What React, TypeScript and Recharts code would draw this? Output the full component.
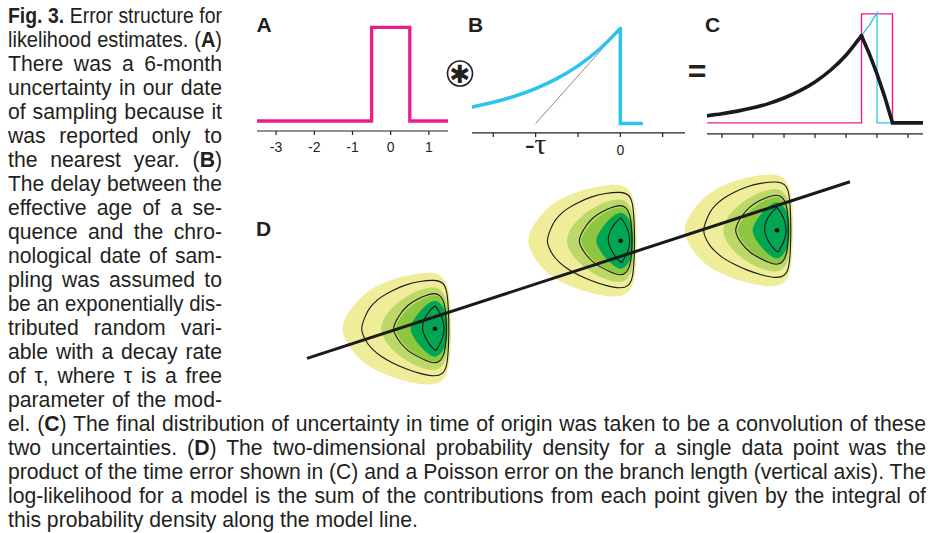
import React, { useMemo } from 'react';
import { LineChart, Line, XAxis, YAxis, ScatterChart, Scatter } from 'recharts';

// ---------- Panel A: sampling-date uncertainty (box) ----------
const A_TICKS = [-3, -2, -1, 0, 1];
const A_BOX = [
  { x: -3.5, y: 0 }, { x: -0.5, y: 0 }, { x: -0.5, y: 1 },
  { x: 0.5, y: 1 }, { x: 0.5, y: 0 }, { x: 1.5, y: 0 },
];

// ---------- Panel B: exponential delay ----------
const B_TICKS = [-1.5, -1, -0.5, 0, 0.5];
const B_TICK_LABELS = ['', '-τ', '', '0', ''];
const B_DECAY = [
  { x: -1.75, y: 0.174 }, { x: -1.5, y: 0.223 }, { x: -1.25, y: 0.287 },
  { x: -1.0, y: 0.368 }, { x: -0.75, y: 0.472 }, { x: -0.5, y: 0.607 },
  { x: -0.25, y: 0.779 }, { x: 0, y: 1.0 },
];
const B_DROP = [{ x: 0, y: 1.0 }, { x: 0, y: 0 }, { x: 0.25, y: 0 }];
const B_TANGENT = [{ x: -1, y: 0 }, { x: 0, y: 1.0 }];

// ---------- Panel C: convolution ----------
const C_TICKS = [-5, -4, -3, -2, -1, 0, 1];
const C_BOX = [
  { x: -5.48, y: 0 }, { x: -0.5, y: 0 }, { x: -0.5, y: 1 },
  { x: 0.5, y: 1 }, { x: 0.5, y: 0 },
];
const C_DECAY = [
  { x: -0.5, y: 0.8 }, { x: -0.25, y: 0.895 }, { x: 0, y: 1.01 },
  { x: 0, y: 0 }, { x: 0.5, y: 0 },
];
const C_CONV_RISE = [
  { x: -5.48, y: 0.066 }, { x: -5, y: 0.084 }, { x: -4.5, y: 0.108 },
  { x: -4, y: 0.138 }, { x: -3.5, y: 0.177 }, { x: -3, y: 0.228 },
  { x: -2.5, y: 0.293 }, { x: -2, y: 0.376 }, { x: -1.5, y: 0.483 },
  { x: -1, y: 0.621 }, { x: -0.5, y: 0.8 },
];
const C_CONV_FALL = [
  { x: -0.5, y: 0.8 }, { x: -0.25, y: 0.636 }, { x: 0, y: 0.45 },
  { x: 0.25, y: 0.239 }, { x: 0.5, y: 0 }, { x: 1.48, y: 0 },
];

// ---------- Panel D: 2-D probability density blobs ----------
const D_CENTERS = [
  { x: 13.5, y: 7.13 },
  { x: 32.07, y: 15.93 },
  { x: 47.7, y: 16.97 },
];
const D_MODEL_LINE = [{ x: 0.7, y: 4.16 }, { x: 55.0, y: 21.83 }];

const D_YELLOW = [[0, 5.65], [0.9, 5.1], [1.3, 4.2], [1.5, 2.9], [1.6, 1.2], [1.62, 0], [1.6, -1.2], [1.5, -2.9], [1.3, -4.2], [0.9, -5.1], [0, -5.65], [-1.5, -5.55], [-3.0, -5.27], [-5.4, -4.45], [-6.7, -3.7], [-7.7, -2.93], [-8.6, -1.75], [-9.1, -0.85], [-9.3, 0], [-9.1, 0.85], [-8.6, 1.75], [-7.7, 2.9], [-6.7, 3.75], [-5.4, 4.57], [-3.0, 5.3], [-1.5, 5.55]];
const D_GREEN1 = [[0, 4.2], [0.7, 3.85], [1.2, 2.9], [1.4, 1.4], [1.45, 0], [1.4, -1.4], [1.2, -2.9], [0.7, -3.85], [0, -4.2], [-1.2, -4.0], [-2.4, -3.5], [-3.5, -2.8], [-4.4, -2.0], [-5.1, -1.1], [-5.5, 0], [-5.1, 1.1], [-4.4, 2.0], [-3.5, 2.8], [-2.4, 3.5], [-1.2, 4.0]];
const D_GREEN2 = [[0, 3.4], [0.6, 3.1], [1.1, 2.3], [1.3, 1.1], [1.35, 0], [1.3, -1.1], [1.1, -2.3], [0.6, -3.1], [0, -3.4], [-0.9, -3.15], [-1.8, -2.7], [-2.7, -2.0], [-3.4, -1.2], [-3.8, -0.5], [-4.0, 0], [-3.8, 0.5], [-3.4, 1.2], [-2.7, 2.0], [-1.8, 2.7], [-0.9, 3.15]];
const D_GREEN3 = [[0, 2.9], [0.5, 2.6], [1.0, 1.9], [1.2, 0.9], [1.25, 0], [1.2, -0.9], [1.0, -1.9], [0.5, -2.6], [0, -2.9], [-0.6, -2.6], [-1.2, -2.1], [-1.8, -1.4], [-2.3, -0.6], [-2.5, 0], [-2.3, 0.6], [-1.8, 1.4], [-1.2, 2.1], [-0.6, 2.6]];
const D_CONTOUR1 = [[0, 4.9], [0.8, 4.65], [1.2, 3.9], [1.35, 2.0], [1.4, 0], [1.35, -2.0], [1.2, -3.8], [0.8, -4.55], [0, -4.8], [-1.5, -4.5], [-3.0, -4.0], [-4.3, -3.4], [-5.4, -2.8], [-6.2, -2.1], [-6.7, -1.6], [-7.2, -0.7], [-7.4, 0], [-7.2, 0.7], [-6.7, 1.9], [-6.2, 2.5], [-5.4, 3.2], [-4.3, 3.8], [-3.0, 4.4], [-1.5, 4.75]];
const D_CONTOUR2 = [[0, 3.6], [0.6, 3.3], [0.95, 2.6], [1.1, 1.3], [1.15, 0], [1.1, -1.3], [0.95, -2.5], [0.6, -3.2], [0, -3.5], [-0.9, -3.2], [-1.8, -2.75], [-2.7, -2.25], [-3.5, -1.4], [-4.0, -0.6], [-4.2, 0], [-4.0, 0.6], [-3.5, 1.5], [-2.7, 2.4], [-1.8, 2.95], [-0.9, 3.35]];
const D_LENS = [[0, 2.3], [0, 2.3], [0.45, 1.7], [0.8, 0.9], [0.95, 0], [0.8, -0.9], [0.45, -1.6], [0.1, -2.2], [0.1, -2.2], [-0.4, -1.8], [-0.95, -1.0], [-1.35, 0], [-1.1, 1.0], [-0.6, 1.75]];

const D_FILL_LAYERS = [
  { tpl: D_YELLOW, color: '#efec9a' },
  { tpl: D_GREEN1, color: '#bcd869' },
  { tpl: D_GREEN2, color: '#8dc641' },
  { tpl: D_GREEN3, color: '#00a651' },
];
const D_CONTOURS = [D_CONTOUR1, D_CONTOUR2, D_LENS];

// ---------- Caption text ----------
type Seg = [string, number];
const SIDE_TEXT: Seg[][] = [
  [['Fig. 3.', 1], [' Error structure for', 0]],
  [['likelihood estimates. (', 0], ['A', 1], [')', 0]],
  [['There was a 6-month', 0]],
  [['uncertainty in our date', 0]],
  [['of sampling because it', 0]],
  [['was reported only to', 0]],
  [['the nearest year. (', 0], ['B', 1], [')', 0]],
  [['The delay between the', 0]],
  [['effective age of a se-', 0]],
  [['quence and the chro-', 0]],
  [['nological date of sam-', 0]],
  [['pling was assumed to', 0]],
  [['be an exponentially dis-', 0]],
  [['tributed random vari-', 0]],
  [['able with a decay rate', 0]],
  [['of τ, where τ is a free', 0]],
  [['parameter of the mod-', 0]],
];
const BOTTOM_TEXT: Seg[][] = [
  [['el. (', 0], ['C', 1], [') The final distribution of uncertainty in time of origin was taken to be a convolution of these', 0]],
  [['two uncertainties. (', 0], ['D', 1], [') The two-dimensional probability density for a single data point was the', 0]],
  [['product of the time error shown in (C) and a Poisson error on the branch length (vertical axis). The', 0]],
  [['log-likelihood for a model is the sum of the contributions from each point given by the integral of', 0]],
  [['this probability density along the model line.', 0]],
];

const INK = '#231f20';
const PINK = '#ec1c8d';
const CYAN = '#2dc3ef';
const BODY_FONT_NAME = 'Liberation Sans';
const BODY_FONT = '"Liberation Sans", Arial, sans-serif';
const FIG_FONT = '"Liberation Sans", Arial, Helvetica, sans-serif';
const BODY_SIZE = 21.2;
const LINE_PITCH = 24;
const FIRST_BASELINE = 23.5;

let measureCtx: CanvasRenderingContext2D | null = null;
const measureSegs = (segs: Seg[]) => {
  if (!measureCtx) measureCtx = document.createElement('canvas').getContext('2d');
  if (!measureCtx) return 0;
  let w = 0;
  for (const [t, b] of segs) {
    measureCtx.font = `${b ? '700 ' : ''}${BODY_SIZE}px "${BODY_FONT_NAME}"`;
    w += measureCtx.measureText(t).width;
  }
  return w;
};

const renderSegs = (segs: Seg[]) =>
  segs.map(([t, b], i) => (b ? <b key={i} style={{ fontWeight: 700 }}>{t}</b> : <span key={i}>{t}</span>));

function TextLine({ x, baseline, w, justify, segs }: { x: number; baseline: number; w: number; justify: boolean; segs: Seg[] }) {
  const s = useMemo(() => {
    const nat = measureSegs(segs);
    return nat > 0 ? Math.min(1, w / (nat + 0.8)) : 1;
  }, [segs, w]);
  return (
    <div
      style={{
        fontFamily: BODY_FONT,
        fontSize: BODY_SIZE,
        lineHeight: '23.8px',
        color: INK,
        position: 'absolute',
        left: x,
        top: baseline - 19.3,
        width: justify ? w / s : undefined,
        whiteSpace: justify ? 'normal' : 'nowrap',
        textAlign: justify ? 'justify' : 'left',
        textAlignLast: justify ? 'justify' : 'auto',
        transform: `scaleX(${s})`,
        transformOrigin: '0 0',
      }}
    >
      {renderSegs(segs)}
    </div>
  );
}

const axisStyle = { stroke: INK, strokeWidth: 1.2 };

const BTick = (props: any) => {
  const { x, y, payload } = props;
  const idx = B_TICKS.indexOf(payload.value);
  const label = idx >= 0 ? B_TICK_LABELS[idx] : '';
  if (!label) return <g />;
  if (label.includes('τ')) {
    return (
      <text x={x} y={y + 15} textAnchor="middle" fontFamily='"Liberation Serif", "DejaVu Serif", serif' fontSize={29} fill={INK}>
        {label}
      </text>
    );
  }
  return (
    <text x={x} y={y + 16} textAnchor="middle" fontFamily={FIG_FONT} fontSize={14} fill={INK}>
      {label}
    </text>
  );
};

const EmptyShape = () => <g />;
const DotShape = (p: any) => <circle cx={p.cx} cy={p.cy} r={2.3} fill="#111" />;

const place = (left: number, top: number): React.CSSProperties => ({ position: 'absolute', left, top });

export default function App() {
  const blobs = D_CENTERS.map((c) => ({
    fills: D_FILL_LAYERS.map((l) => ({ color: l.color, pts: l.tpl.map(([dx, dy]) => ({ x: c.x + dx, y: c.y + dy })) })),
    contours: D_CONTOURS.map((t) => t.map(([dx, dy]) => ({ x: c.x + dx, y: c.y + dy }))),
    center: [c],
  }));

  return (
    <div style={{ position: 'absolute', left: 0, top: 0, width: 940, height: 533, background: '#fff', overflow: 'hidden' }}>
      {/* Caption text */}
      {SIDE_TEXT.map((segs, i) => (
        <TextLine key={'s' + i} x={8} baseline={FIRST_BASELINE + LINE_PITCH * i} w={214} justify segs={segs} />
      ))}
      {BOTTOM_TEXT.map((segs, i) => (
        <TextLine
          key={'b' + i}
          x={8}
          baseline={FIRST_BASELINE + LINE_PITCH * (SIDE_TEXT.length + i)}
          w={918}
          justify={i < BOTTOM_TEXT.length - 1}
          segs={segs}
        />
      ))}

      {/* Panel A */}
      <div style={place(257, 18)}>
        <LineChart width={191} height={143} margin={{ top: 0, right: 0, bottom: 0, left: 0 }}>
          <XAxis type="number" dataKey="x" domain={[-3.5, 1.5]} ticks={A_TICKS} interval={0} allowDataOverflow
            height={30} tickSize={4} tickMargin={7} axisLine={axisStyle} tickLine={axisStyle}
            tick={{ fontSize: 14, fill: INK, fontFamily: FIG_FONT }} />
          <YAxis type="number" domain={[-0.107, 1.1]} hide allowDataOverflow />
          <Line data={A_BOX} dataKey="y" type="linear" stroke={PINK} strokeWidth={3.3} dot={false} activeDot={false} isAnimationActive={false} strokeLinejoin="miter" />
        </LineChart>
      </div>

      {/* Panel B */}
      <div style={place(471.7, 18.8)}>
        <LineChart width={213.3} height={143.9} margin={{ top: 0, right: 0, bottom: 0, left: 0 }}>
          <XAxis type="number" dataKey="x" domain={[-1.751, 0.767]} ticks={B_TICKS} interval={0} allowDataOverflow
            height={30} tickSize={4} axisLine={axisStyle} tickLine={axisStyle} tick={BTick} />
          <YAxis type="number" domain={[-0.099, 1.1]} hide allowDataOverflow />
          <Line data={B_TANGENT} dataKey="y" type="linear" stroke="#8a8a8a" strokeWidth={1} dot={false} activeDot={false} isAnimationActive={false} />
          <Line data={B_DECAY} dataKey="y" type="monotone" stroke={CYAN} strokeWidth={3.5} dot={false} activeDot={false} isAnimationActive={false} strokeLinecap="round" />
          <Line data={B_DROP} dataKey="y" type="linear" stroke={CYAN} strokeWidth={3.5} dot={false} activeDot={false} isAnimationActive={false} strokeLinecap="round" />
        </LineChart>
      </div>

      {/* Panel C */}
      <div style={place(706.7, 3.4)}>
        <LineChart width={216} height={160.9} margin={{ top: 0, right: 0, bottom: 0, left: 0 }}>
          <XAxis type="number" dataKey="x" domain={[-5.484, 1.484]} ticks={C_TICKS} interval={0} allowDataOverflow
            height={30} tickSize={4} axisLine={axisStyle} tickLine={axisStyle} tickFormatter={() => ''} />
          <YAxis type="number" domain={[-0.101, 1.1]} hide allowDataOverflow />
          <Line data={C_BOX} dataKey="y" type="linear" stroke={PINK} strokeWidth={1.4} dot={false} activeDot={false} isAnimationActive={false} />
          <Line data={C_DECAY} dataKey="y" type="linear" stroke={CYAN} strokeWidth={1.3} dot={false} activeDot={false} isAnimationActive={false} />
          <Line data={C_CONV_RISE} dataKey="y" type="monotone" stroke="#1a1a1a" strokeWidth={3.6} dot={false} activeDot={false} isAnimationActive={false} strokeLinecap="round" />
          <Line data={C_CONV_FALL} dataKey="y" type="linear" stroke="#1a1a1a" strokeWidth={3.6} dot={false} activeDot={false} isAnimationActive={false} strokeLinecap="round" />
        </LineChart>
      </div>

      {/* Panel D */}
      <div style={place(300, 165)}>
        <ScatterChart width={560} height={235} margin={{ top: 0, right: 0, bottom: 0, left: 0 }}>
          <XAxis type="number" dataKey="x" domain={[0, 56]} hide allowDataOverflow />
          <YAxis type="number" dataKey="y" domain={[0, 23.5]} hide allowDataOverflow />
          {blobs.map((b, bi) => (
            <React.Fragment key={'blob' + bi}>
              {b.fills.map((f, fi) => (
                <Scatter key={'f' + bi + '-' + fi} data={f.pts} line={{ fill: f.color, stroke: 'none' }} lineJointType="basisClosed"
                  shape={EmptyShape} isAnimationActive={false} />
              ))}
              {b.contours.map((pts, ci) => (
                <Scatter key={'c' + bi + '-' + ci} data={pts} line={{ fill: 'none', stroke: '#1a1a1a', strokeWidth: 1.1 }} lineJointType="basisClosed"
                  shape={EmptyShape} isAnimationActive={false} />
              ))}
              <Scatter data={b.center} shape={DotShape} isAnimationActive={false} />
            </React.Fragment>
          ))}
          <Scatter data={D_MODEL_LINE} line={{ stroke: '#1a1a1a', strokeWidth: 3, fill: 'none' }} lineJointType="linear"
            shape={EmptyShape} isAnimationActive={false} />
        </ScatterChart>
      </div>

      {/* Panel labels and operators */}
      <svg width={940} height={533} style={{ position: 'absolute', left: 0, top: 0, pointerEvents: 'none' }}>
        <g fontFamily={FIG_FONT} fontWeight={700} fontSize={21} fill={INK}>
          <text x={256.5} y={31.7}>A</text>
          <text x={468} y={31.7}>B</text>
          <text x={705} y={31.7}>C</text>
          <text x={256} y={236}>D</text>
        </g>
        <circle cx={460} cy={73.5} r={12.5} fill="none" stroke={INK} strokeWidth={1.6} />
        <text x={460} y={74} textAnchor="middle" dominantBaseline="central" fontFamily='"DejaVu Sans", sans-serif' fontSize={25} fill={INK}>✱</text>
        <text x={697} y={81.5} textAnchor="middle" fontFamily={FIG_FONT} fontWeight={700} fontSize={32} fill={INK}>=</text>
      </svg>
    </div>
  );
}
